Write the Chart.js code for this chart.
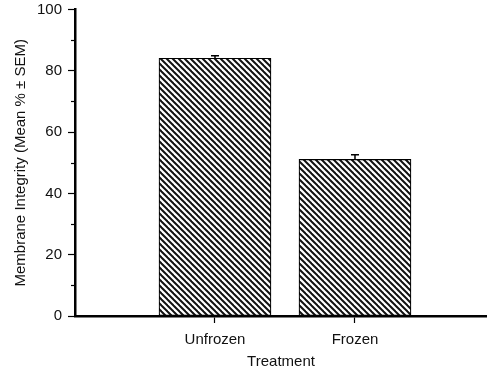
<!DOCTYPE html>
<html lang="en">
<head>
  <meta charset="UTF-8" />
  <title>Membrane Integrity</title>
  <script src="https://cdn.jsdelivr.net/npm/chart.js"></script>
  <style>
    html, body { margin: 0; padding: 0; background: #fff; }
    #wrap { width: 487px; height: 375px; }
  </style>
</head>
<body>
  <div id="wrap"><canvas id="chart" width="487" height="375"></canvas></div>

  <script>
    // data
    const categories = ['Unfrozen', 'Frozen'];
    const means = [84.1, 51.1];
    const sems = [0.8, 1.5];
    const yMajorTicks = [0, 20, 40, 60, 80, 100];
    const yMinorTicks = [10, 30, 50, 70, 90];

    const FONT = "'Liberation Sans', Arial, sans-serif";

    // diagonal hatch fill (top-left to bottom-right)
    function makeHatch() {
      const c = document.createElement('canvas');
      c.width = 6; c.height = 6;
      const g = c.getContext('2d');
      g.fillStyle = '#fff';
      g.fillRect(0, 0, 6, 6);
      g.strokeStyle = '#111';
      g.lineWidth = 2;
      for (let k = -1; k <= 1; k++) {
        g.beginPath();
        g.moveTo(k * 6 - 1, -1);
        g.lineTo(k * 6 + 7, 7);
        g.stroke();
      }
      return document.getElementById('chart').getContext('2d').createPattern(c, 'repeat');
    }

    const extras = {
      id: 'extras',
      afterDatasetsDraw(chart) {
        const ctx = chart.ctx;
        const y = chart.scales.y;
        const meta = chart.getDatasetMeta(0);
        ctx.save();
        ctx.strokeStyle = '#000';

        // error bars (upper half only)
        ctx.lineWidth = 1.5;
        meta.data.forEach((bar, i) => {
          const top = y.getPixelForValue(means[i] + sems[i]);
          ctx.beginPath();
          ctx.moveTo(bar.x, bar.y);
          ctx.lineTo(bar.x, top);
          ctx.moveTo(bar.x - 4, top);
          ctx.lineTo(bar.x + 4, top);
          ctx.stroke();
        });

        // minor ticks on y axis
        ctx.lineWidth = 1.2;
        yMinorTicks.forEach(v => {
          const py = Math.round(y.getPixelForValue(v)) + 0.5;
          ctx.beginPath();
          ctx.moveTo(y.right - 4, py);
          ctx.lineTo(y.right, py);
          ctx.stroke();
        });
        ctx.restore();
      }
    };

    new Chart(document.getElementById('chart'), {
      type: 'bar',
      data: {
        datasets: [{
          data: means.map((m, i) => ({ x: i + 1, y: m })),
          backgroundColor: makeHatch(),
          borderColor: '#000',
          borderWidth: 1.2,
          borderSkipped: false,
          barThickness: 112
        }]
      },
      options: {
        responsive: false,
        animation: false,
        layout: { padding: { top: 9.5, right: 0, bottom: 0, left: 0 } },
        plugins: { legend: { display: false }, tooltip: { enabled: false } },
        scales: {
          x: {
            type: 'linear',
            min: 0,
            max: 2.943,
            offset: false,
            afterFit(scale) { scale.height = 59; },
            afterBuildTicks(scale) {
              scale.ticks = categories.map((c, i) => ({ value: i + 1 }));
            },
            grid: { offset: false, drawOnChartArea: false, tickLength: 7, tickColor: '#000', tickWidth: 1.2 },
            border: { color: '#000', width: 2.5 },
            ticks: {
              color: '#111',
              padding: 8,
              maxRotation: 0,
              font: { family: FONT, size: 15 },
              callback: v => categories[v - 1] || ''
            },
            title: {
              display: true,
              text: 'Treatment',
              color: '#111',
              padding: { top: 0, bottom: 4 },
              font: { family: FONT, size: 15 }
            }
          },
          y: {
            min: 0,
            max: 100,
            afterFit(scale) { scale.width = 75; scale.paddingTop = 0; scale.paddingBottom = 0; },
            afterBuildTicks(scale) {
              scale.ticks = yMajorTicks.map(v => ({ value: v }));
            },
            grid: { drawOnChartArea: false, tickLength: 7, tickColor: '#000', tickWidth: 1.2 },
            border: { color: '#000', width: 2.5 },
            ticks: {
              color: '#111',
              padding: 6,
              font: { family: FONT, size: 15 }
            },
            title: {
              display: true,
              text: 'Membrane Integrity (Mean % \u00B1 SEM)',
              color: '#111',
              padding: { top: 12, bottom: 0 },
              font: { family: FONT, size: 15 }
            }
          }
        }
      },
      plugins: [extras]
    });
  </script>
</body>
</html>
